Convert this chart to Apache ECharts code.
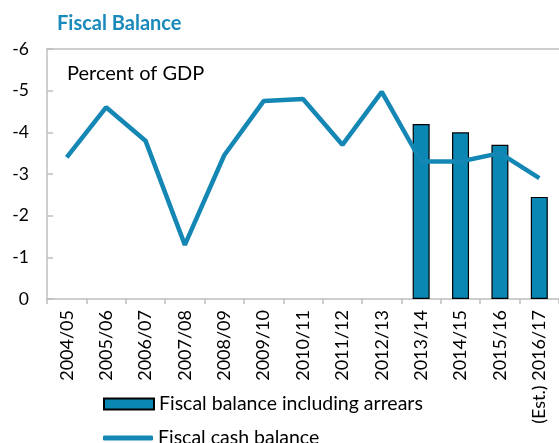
<!DOCTYPE html>
<html><head><meta charset="utf-8">
<script src="https://cdn.jsdelivr.net/npm/echarts@6/dist/echarts.min.js"></script>
<style>html,body{margin:0;padding:0;background:#fff}#c{width:559px;height:443px}</style>
</head><body><div id="c"></div>
<script>
var categories = ['2004/05','2005/06','2006/07','2007/08','2008/09','2009/10','2010/11','2011/12','2012/13','2013/14','2014/15','2015/16','(Est.) 2016/17'];
var arrears = [null,null,null,null,null,null,null,null,null,-4.2,-4.0,-3.7,-2.45];
var cash = [-3.4,-4.6,-3.8,-1.3,-3.45,-4.75,-4.8,-3.7,-4.97,-3.3,-3.3,-3.5,-2.9];
var FONT = 'Lato';
var BLUE = '#0a88b3';
var chart = echarts.init(document.getElementById('c'));
chart.setOption({
  animation:false,
  textStyle:{fontFamily:FONT},
  graphic:[
    {type:'text',left:57,top:14,style:{text:'Fiscal Balance',font:'bold 20px '+FONT,fill:'#1a8abc'}},
    {type:'text',left:67,top:64,style:{text:'Percent of GDP',font:'20px '+FONT,fill:'#000'}}
  ],
  legend:[
    {data:[{name:'Fiscal balance including arrears',icon:'rect'}],orient:'vertical',left:98,top:389,itemWidth:50,itemHeight:11,
     textStyle:{fontFamily:FONT,fontSize:19.5,color:'#000'}},
    {data:[{name:'Fiscal cash balance',icon:'roundRect'}],orient:'vertical',left:98,top:423,itemWidth:50,itemHeight:5,
     textStyle:{fontFamily:FONT,fontSize:19.5,color:'#000'}}
  ],
  grid:{left:47,right:-4,top:49,bottom:144,containLabel:false},
  xAxis:[{type:'category',data:categories,boundaryGap:true,
    axisLine:{lineStyle:{color:'#bfbfbf',width:1.5}},
    axisTick:{show:true,length:5,lineStyle:{color:'#bfbfbf',width:1.5}},
    axisLabel:{rotate:90,interval:0,fontSize:18,color:'#000',fontFamily:FONT,margin:11}},
    {type:'category',data:categories,position:'top',axisLine:{show:true,lineStyle:{color:'#bfbfbf',width:1.5}},axisTick:{show:false},axisLabel:{show:false}}],
  yAxis:{type:'value',min:-6,max:0,interval:1,inverse:true,
    axisLine:{show:true,lineStyle:{color:'#bfbfbf',width:1.5}},
    axisTick:{show:true,inside:true,length:6,lineStyle:{color:'#bfbfbf',width:1.5}},
    splitLine:{show:false},
    axisLabel:{fontSize:17.5,color:'#000',fontFamily:FONT,margin:18}},
  series:[
    {name:'Fiscal balance including arrears',type:'bar',data:arrears,barWidth:17,
     itemStyle:{color:BLUE,borderColor:'#000',borderWidth:1.2}},
    {name:'Fiscal cash balance',type:'line',data:cash,symbol:'none',
     lineStyle:{color:'#1487b5',width:4.5},itemStyle:{color:'#1487b5'},z:3}
  ]
});
</script></body></html>
